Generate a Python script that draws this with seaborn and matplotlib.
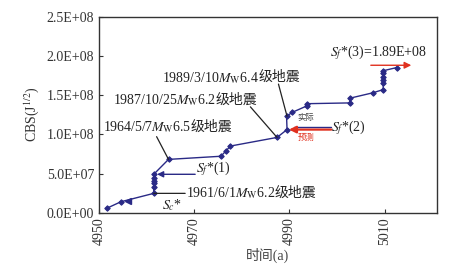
import matplotlib
matplotlib.use("Agg")
import matplotlib.pyplot as plt
import seaborn as sns
import pandas as pd

# ---- data ----
years = [4951.6, 4954.6, 4961.5, 4961.5, 4961.5, 4961.5, 4961.5, 4961.5,
         4964.6, 4975.6, 4976.7, 4977.6, 4987.4, 4989.5, 4989.4, 4990.6,
         4993.6, 4993.6, 5002.7, 5002.7, 5007.6, 5009.7, 5009.7, 5009.7,
         5009.7, 5009.7, 5009.7, 5012.5]
cbs = [5.6e6, 1.4e7, 2.47e7, 3.3e7, 3.75e7, 4.1e7, 4.4e7, 4.9e7,
       6.8e7, 7.2e7, 7.9e7, 8.5e7, 9.6e7, 1.06e8, 1.23e8, 1.28e8,
       1.36e8, 1.39e8, 1.40e8, 1.46e8, 1.53e8, 1.57e8, 1.65e8, 1.69e8,
       1.73e8, 1.78e8, 1.81e8, 1.85e8]
xticks = [4950, 4970, 4990, 5010]
yticks = [0, 5e7, 1e8, 1.5e8, 2e8, 2.5e8]
ytick_labels = ["0.0E+00", "5.0E+07", "1.0E+08", "1.5E+08", "2.0E+08", "2.5E+08"]
xlabel = "时间(a)"
ylabel = "CBS(J$^{1/2}$)"
quakes = ["1964/5/7", "1987/10/25", "1989/3/10", "1961/6/1"]
mags = ["6.5", "6.2", "6.4", "6.2"]

sns.set_theme(style="ticks")
fam = ["Liberation Serif", "Noto Sans CJK SC", "DejaVu Sans"]
plt.rcParams["font.family"] = fam
plt.rcParams["mathtext.fontset"] = "stix"

navy = "#2a2a86"
red = "#e0301e"
tc = "#222222"
fs = 10

fig = plt.figure(figsize=(4.55, 2.77), dpi=100)
ax = fig.add_axes([0.2176, 0.232, 0.7428, 0.708])

df = pd.DataFrame({"t": years, "c": cbs})
sns.lineplot(data=df, x="t", y="c", sort=False, estimator=None, ax=ax,
             color=navy, lw=1.0, marker="D", markersize=2.8,
             markeredgecolor=navy, markerfacecolor=navy)

ax.set_xlim(4950, 5021)
ax.set_ylim(0, 2.5e8)
ax.set_xticks(xticks)
ax.set_xticklabels([str(v) for v in xticks], rotation=90, fontsize=10)
ax.set_yticks(yticks)
ax.set_yticklabels(ytick_labels, fontsize=10)
ax.tick_params(direction="in", length=3, width=0.8, colors="#333333")
for s in ax.spines.values():
    s.set_color("#333333")
    s.set_linewidth(1.0)
ax.set_xlabel(xlabel, fontsize=10, color="#444444", labelpad=2,
              family=["Liberation Serif", "Noto Sans CJK SC"])
ax.set_ylabel(ylabel, fontsize=10, color="#333333", labelpad=4)


def quake_label(x, y, date, mag):
    t1 = ax.text(x, y, date + "$M_\\mathrm{W}$" + mag, fontsize=fs, color=tc,
                 ha="left", va="center")
    ax.annotate("级地震", xy=(1, 0.5), xycoords=t1, xytext=(-0.3, 0.5),
                textcoords="offset points", fontsize=fs, color=tc,
                ha="left", va="center", family=["Noto Sans CJK SC"])


def leader(p0, p1):
    ax.annotate("", xy=p1, xytext=p0,
                arrowprops=dict(arrowstyle="-", color="#222222", lw=0.9,
                                shrinkA=0, shrinkB=0))


quake_label(4950.8, 1.087e8, quakes[0], mags[0])
leader((4962.1, 9.7e7), (4964.6, 6.8e7))
quake_label(4952.9, 1.437e8, quakes[1], mags[1])
leader((4981.8, 1.35e8), (4987.4, 9.6e7))
quake_label(4963.3, 1.72e8, quakes[2], mags[2])
leader((4987.7, 1.64e8), (4989.5, 1.23e8))
quake_label(4968.3, 2.47e7, quakes[3], mags[3])
leader((4961.5, 2.47e7), (4968.1, 2.47e7))

ax.text(4965.3, 9.8e6, "$S_c$*", fontsize=fs, color=tc, ha="center", va="center")
ax.plot([4956.0], [1.55e7], marker="<", color=navy, markersize=5, ls="none")

# S_f*(1)
ax.annotate("", xy=(4962.2, 4.9e7), xytext=(4970.2, 4.9e7),
            arrowprops=dict(arrowstyle="-|>", color=navy, lw=1.0,
                            mutation_scale=9, shrinkA=0, shrinkB=0))
ax.text(4970.4, 5.6e7, "$S_f$*(1)", fontsize=fs, color=tc, ha="left", va="center")

# S_f*(2)
ax.plot([4991.0, 4998.8], [1.087e8, 1.087e8], color=navy, lw=1.0)
ax.annotate("", xy=(4989.9, 1.06e8), xytext=(4998.8, 1.06e8),
            arrowprops=dict(arrowstyle="-|>", color=red, lw=1.6,
                            mutation_scale=10, shrinkA=0, shrinkB=0))
ax.text(4998.8, 1.08e8, "$S_f$*(2)", fontsize=fs, color=tc, ha="left", va="center")
ax.text(4993.4, 1.21e8, "实际", fontsize=6, color="#444444", ha="center", va="center",
        family=["Noto Sans CJK SC"])
ax.text(4993.4, 9.6e7, "预测", fontsize=6, color=red, ha="center", va="center",
        family=["Noto Sans CJK SC"])

# S_f*(3)
ax.annotate("", xy=(5015.6, 1.88e8), xytext=(5007.1, 1.88e8),
            arrowprops=dict(arrowstyle="-|>", color=red, lw=1.0,
                            mutation_scale=10, shrinkA=0, shrinkB=0))
ax.text(4998.6, 2.04e8, "$S_f$*(3)=1.89E+08", fontsize=fs, color=tc, ha="left", va="center")

fig.savefig("out.png", dpi=100)
